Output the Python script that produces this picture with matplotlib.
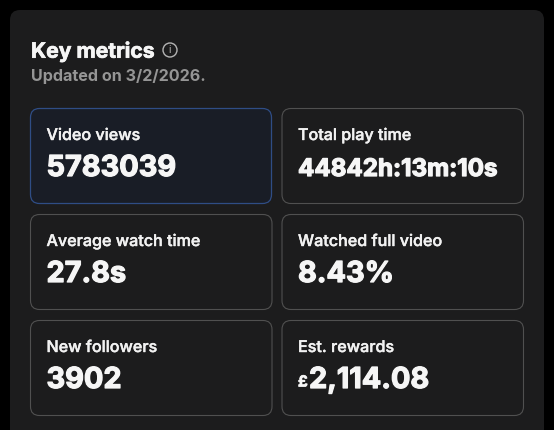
import matplotlib
matplotlib.use('Agg')
import matplotlib.pyplot as plt
import matplotlib.patheffects as pe
from matplotlib.patches import FancyBboxPatch, Circle

plt.rcParams['font.family'] = ['Inter', 'Liberation Sans', 'DejaVu Sans']

labels = ['Video views', 'Total play time', 'Average watch time', 'Watched full video', 'New followers', 'Est. rewards']
values = ['5783039', '44842h:13m:10s', '27.8s', '8.43%', '3902', '2,114.08']
title = 'Key metrics'
updated = 'Updated on 3/2/2026.'

fig = plt.figure(figsize=(5.54, 4.30), dpi=100, facecolor='#000000')
ax = fig.add_axes([0, 0, 1, 1])
ax.set_xlim(0, 554)
ax.set_ylim(430, 0)
ax.axis('off')


def card(x, y, w, h, r, fc, ec, lw=1.0):
    p = FancyBboxPatch((x + r, y + r), w - 2*r, h - 2*r, boxstyle='round,pad=%g,rounding_size=%g' % (r, r),
                       fc=fc, ec=ec, lw=lw)
    ax.add_patch(p)


def thick(w, c='#f6f6f6'):
    return [pe.withStroke(linewidth=w, foreground=c)]


# outer panel runs off the bottom
card(10, 10, 534, 440, 10, '#1c1c1d', 'none', 0)

ax.text(31, 49.2, title, color='#f6f6f6', fontsize=15.2, fontweight='bold', va='center_baseline', path_effects=thick(0.5))
ax.add_patch(Circle((170, 50), 7, fc='none', ec='#b4b4b4', lw=1.0))
ax.text(170, 50, 'i', color='#b4b4b4', fontsize=7.5, ha='center', va='center')
ax.text(31, 75.5, updated, color='#959595', fontsize=11.6, fontweight='bold', va='center_baseline')

xs = [30.5, 282]
ys = [108.5, 214.5, 320.5]
for i in range(6):
    x = xs[i % 2]
    y = ys[i // 2]
    if i == 0:
        card(x, y, 241, 95, 9, '#191d26', '#2f4d85', 0.9)
    else:
        card(x, y, 241.5, 95, 9, '#1c1c1d', '#505050', 0.8)
    ax.text(x + 16, y + 25.5, labels[i], color='#f2f2f2', fontsize=11.6, fontweight='medium', va='center_baseline',
            path_effects=thick(0.3, '#f2f2f2'))
    size = 17.4 if i == 1 else 20.8
    dy = 59 if i == 1 else 57
    tx = x + 16
    if i == 5:
        ax.text(tx, y + 60, '£', color='#f6f6f6', fontsize=11, fontweight='bold', va='center_baseline',
                path_effects=thick(0.5))
        tx += 11
    ax.text(tx, y + dy, values[i], color='#f6f6f6', fontsize=size, fontweight='bold', va='center_baseline',
            path_effects=thick(0.9))

fig.savefig('out.png', dpi=100, facecolor=fig.get_facecolor())
